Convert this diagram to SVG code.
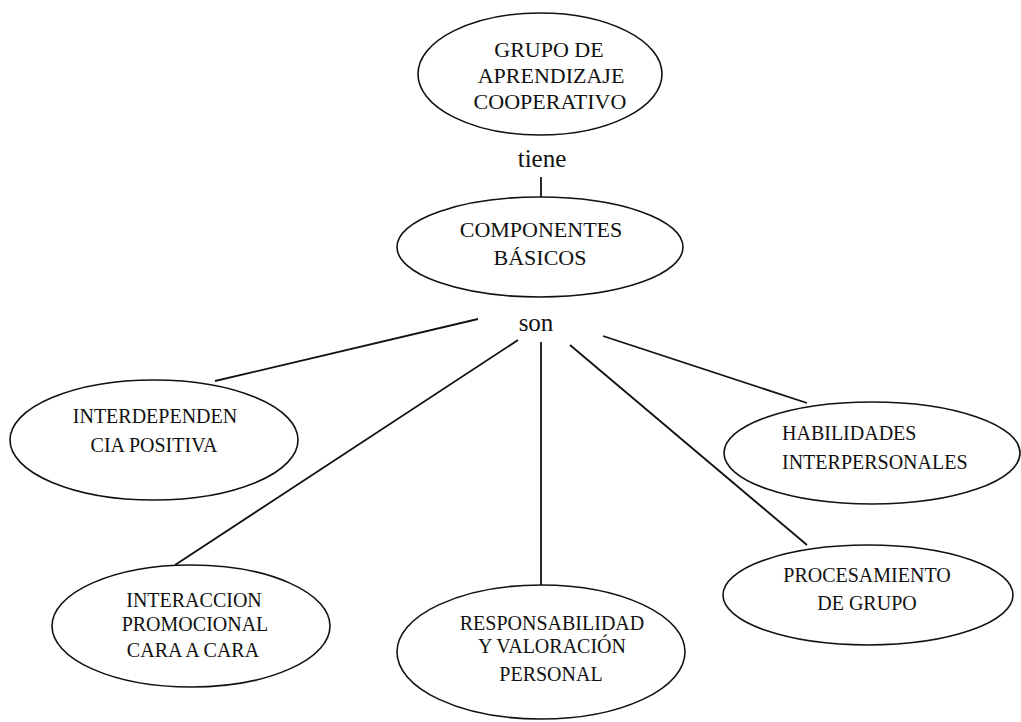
<svg xmlns="http://www.w3.org/2000/svg" width="1021" height="722" viewBox="0 0 1021 722">
<style>
.n{fill:#fff;stroke:#111;stroke-width:1.6}
.t{font-family:"Liberation Serif","Times New Roman",serif;fill:#111;text-anchor:middle}
.s20{font-size:20px}
.s22{font-size:22px}
.lbl{font-size:25px}
.c{stroke:#111;stroke-width:1.8;fill:none}
</style>
<rect width="1021" height="722" fill="#fff"/>
<g id="connectors">
<line class="c" x1="541" y1="177" x2="541" y2="197"/>
<line class="c" x1="478" y1="319" x2="215" y2="381"/>
<line class="c" x1="518" y1="340" x2="175" y2="565"/>
<line class="c" x1="541" y1="342" x2="541" y2="585"/>
<line class="c" x1="570" y1="345" x2="807" y2="545"/>
<line class="c" x1="603" y1="336" x2="807" y2="403"/>
<text class="t lbl" x="542" y="167">tiene</text>
<text class="t lbl" x="536" y="331">son</text>
</g>
<g id="grupo">
<ellipse class="n" cx="540" cy="74" rx="122" ry="61"/>
<text class="t s22" x="549" y="57">GRUPO DE</text>
<text class="t s22" x="551" y="83">APRENDIZAJE</text>
<text class="t s22" x="550" y="109">COOPERATIVO</text>
</g>
<g id="componentes">
<ellipse class="n" cx="540" cy="247" rx="143" ry="50"/>
<text class="t s22" x="541" y="237">COMPONENTES</text>
<text class="t s22" x="540" y="265">BÁSICOS</text>
</g>
<g id="interdependencia">
<ellipse class="n" cx="154" cy="440" rx="144" ry="60"/>
<text class="t s20" x="155" y="423">INTERDEPENDEN</text>
<text class="t s20" x="154" y="452">CIA POSITIVA</text>
</g>
<g id="habilidades">
<ellipse class="n" cx="872" cy="453" rx="148" ry="51"/>
<text class="t s20" x="782" y="440" style="text-anchor:start">HABILIDADES</text>
<text class="t s20" x="782" y="469" style="text-anchor:start">INTERPERSONALES</text>
</g>
<g id="interaccion">
<ellipse class="n" cx="191" cy="626" rx="139" ry="61"/>
<text class="t s20" x="194" y="607">INTERACCION</text>
<text class="t s20" x="195" y="631">PROMOCIONAL</text>
<text class="t s20" x="193" y="657">CARA A CARA</text>
</g>
<g id="responsabilidad">
<ellipse class="n" cx="541" cy="652" rx="144" ry="67"/>
<text class="t s20" x="552" y="630">RESPONSABILIDAD</text>
<text class="t s20" x="552" y="653">Y VALORACIÓN</text>
<text class="t s20" x="551" y="681">PERSONAL</text>
</g>
<g id="procesamiento">
<ellipse class="n" cx="868" cy="595" rx="145" ry="50"/>
<text class="t s20" x="867" y="582">PROCESAMIENTO</text>
<text class="t s20" x="867" y="610">DE GRUPO</text>
</g>
</svg>
